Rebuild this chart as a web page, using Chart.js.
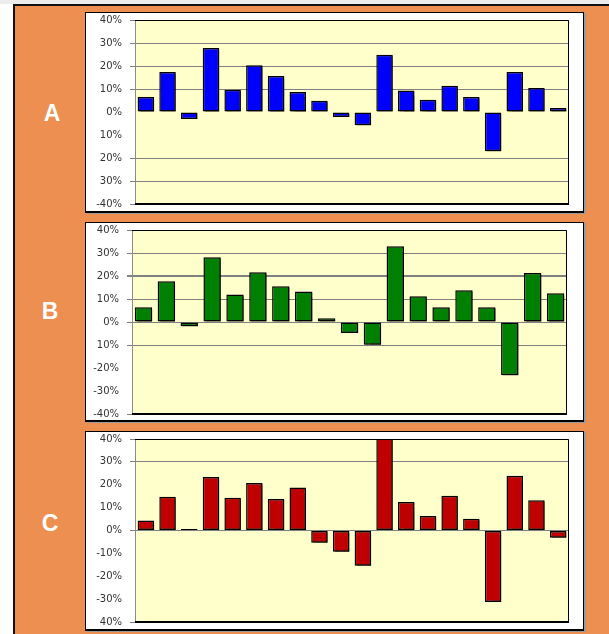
<!DOCTYPE html>
<html>
<head>
<meta charset="utf-8">
<script src="https://cdn.jsdelivr.net/npm/chart.js@4"></script>
<style>
  body { margin: 0; background: #fff; width: 609px; height: 634px; overflow: hidden; position: relative; }
  .top-strip { position: absolute; left: 0; top: 0; width: 609px; height: 4px; background: #ececec; }
  .frame { position: absolute; left: 13px; top: 4px; width: 600px; height: 640px; background: #EC8F50;
           border-left: 2px solid #111; border-top: 2px solid #111; }
  .box { position: absolute; left: 85px; width: 499px; background: #fff; box-sizing: border-box;
         border: 1px solid #000; border-bottom-width: 2px; box-shadow: 2px 1px 0 #9a9a9a; }
  .box canvas { position: absolute; left: -1px; top: -1px; }
  .tag { position: absolute; width: 40px; text-align: center; color: #fff;
         font: bold 23px "Liberation Sans", Arial, sans-serif; }
</style>
</head>
<body>
<div class="top-strip"></div>
<div class="frame"></div>
<div class="tag" style="left:32px; top:100px;">A</div>
<div class="tag" style="left:30px; top:298px;">B</div>
<div class="tag" style="left:30px; top:510px;">C</div>
<div class="box" style="top:12px; height:201px;"><canvas id="chartA" width="499" height="201"></canvas></div>
<div class="box" style="top:222px; height:200px;"><canvas id="chartB" width="499" height="200"></canvas></div>
<div class="box" style="top:431px; height:200px;"><canvas id="chartC" width="499" height="200"></canvas></div>
<script>
// values (%)
const valuesA = [6.5, 17.4, -3, 27.8, 9.7, 20.3, 15.6, 8.7, 4.9, -2.2, -5.8, 24.9, 9.3, 5.3, 11.4, 6.5, -17.1, 17.4, 10.4, 1.7];
const valuesB = [6.4, 17.7, -1.9, 28.1, 12, 21.6, 15.5, 13.3, 1.6, -4.8, -9.9, 32.9, 11.2, 6.4, 13.8, 6.4, -23.2, 21.3, 12.5];
const valuesC = [4.4, 14.7, 0.7, 23.4, 14.3, 20.8, 13.8, 18.8, -5.4, -9.3, -15.4, 44, 12.5, 6.3, 15.2, 5.1, -31.3, 23.9, 13.2, -3.2];

// tick labels bottom (-40) to top (40), as printed
const tickLabelsA = ['-40%', '30%', '20%', '10%', '0%', '10%', '20%', '30%', '40%'];
const tickLabelsB = ['-40%', '-30%', '-20%', '10%', '0%', '10%', '20%', '30%', '40%'];
const tickLabelsC = ['40%', '-30%', '-20%', '-10%', '0%', '10%', '20%', '30%', '40%'];

// which gridlines are drawn
const gridA = [-40, -30, -20, 10, 20, 30, 40];
const gridB = [-40, -10, 0, 10, 20, 30, 40];
const gridC = [-40, 0, 30, 40];

const plotArea = {
  id: 'plotArea',
  beforeDraw(chart) {
    const a = chart.chartArea, c = chart.ctx;
    c.save();
    c.fillStyle = '#FFFFCC';
    c.fillRect(a.left, a.top, a.right - a.left, a.bottom - a.top);
    c.restore();
  },
  beforeDatasetsDraw(chart) {
    const c = chart.ctx;
    c.save();
    c.shadowColor = 'rgba(0,0,0,0.55)';
    c.shadowOffsetX = 2;
    c.shadowOffsetY = 1.5;
    c.shadowBlur = 1;
  },
  afterDatasetsDraw(chart) {
    const a = chart.chartArea, c = chart.ctx;
    c.restore();
    c.save();
    c.strokeStyle = '#000';
    c.lineWidth = 1;
    c.beginPath();
    c.moveTo(a.left, a.top + 0.5);
    c.lineTo(a.right - 0.5, a.top + 0.5);
    c.lineTo(a.right - 0.5, a.bottom);
    c.stroke();
    c.lineWidth = 2;
    c.beginPath();
    c.moveTo(a.left, a.bottom);
    c.lineTo(a.right, a.bottom);
    c.stroke();
    c.restore();
  }
};

function makeChart(id, values, color, tickLabels, grid, axisWidth, pad) {
  const labels = values.map((v, i) => i + 1);
  return new Chart(document.getElementById(id), {
    type: 'bar',
    data: {
      labels: labels,
      datasets: [{
        data: values,
        backgroundColor: color,
        borderColor: '#000',
        borderWidth: 1.5,
        borderSkipped: false,
        barPercentage: 0.76,
        categoryPercentage: 1
      }]
    },
    options: {
      responsive: false,
      animation: false,
      layout: { padding: pad },
      plugins: { legend: { display: false }, tooltip: { enabled: false } },
      scales: {
        x: { display: false },
        y: {
          min: -40,
          max: 40,
          afterFit(scale) {
            scale.width = axisWidth;
            scale.paddingTop = 0;
            scale.paddingBottom = 0;
          },
          border: { color: '#8c8c8c', width: 1 },
          grid: {
            color: ctx => grid.includes(ctx.tick.value) ? '#808080' : 'transparent',
            lineWidth: ctx => (id === 'chartB' && ctx.tick.value === 20) ? 2 : 1,
            tickLength: 5
          },
          ticks: {
            stepSize: 10,
            padding: 8,
            color: '#333',
            font: { family: 'DejaVu Sans', size: 10 },
            callback: (value, index) => tickLabels[index]
          }
        }
      }
    },
    plugins: [plotArea]
  });
}

makeChart('chartA', valuesA, '#0000FF', tickLabelsA, gridA, 50, { top: 8, right: 15, bottom: 9, left: 0 });
makeChart('chartB', valuesB, '#008000', tickLabelsB, gridB, 47, { top: 8, right: 17, bottom: 8, left: 0 });
makeChart('chartC', valuesC, '#C00000', tickLabelsC, gridC, 50, { top: 8, right: 15, bottom: 9, left: 0 });
</script>
</body>
</html>
